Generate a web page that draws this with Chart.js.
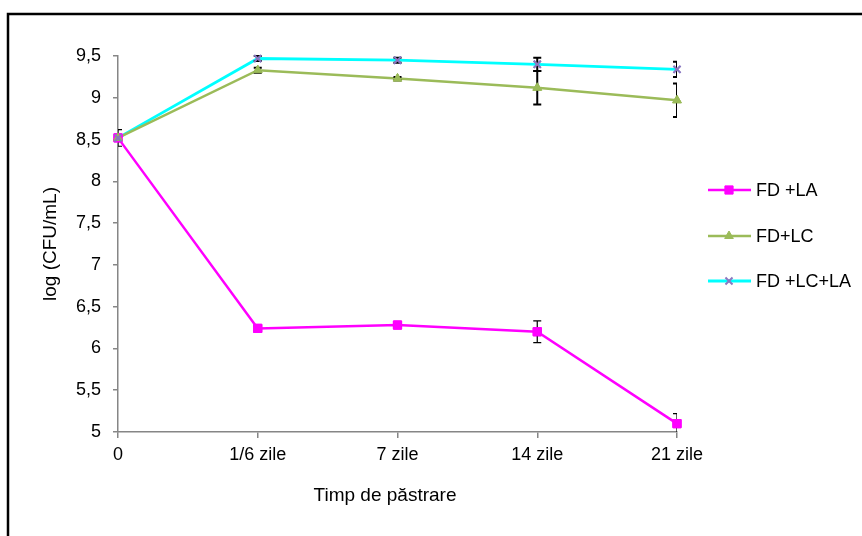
<!DOCTYPE html>
<html>
<head>
<meta charset="utf-8">
<script src="https://cdn.jsdelivr.net/npm/chart.js@4/dist/chart.umd.min.js"></script>
<style>
  html, body { margin: 0; padding: 0; background: #ffffff; }
  #wrap { width: 862px; height: 536px; }
</style>
</head>
<body>
<div id="wrap"><canvas id="c" width="862" height="536"></canvas></div>
<script>
// Storage time points
const categories = ['0', '1/6 zile', '7 zile', '14 zile', '21 zile'];

// log(CFU/mL) per formulation
const fdLA   = [8.52, 6.24, 6.28, 6.20, 5.10];
const fdLC   = [8.52, 9.33, 9.23, 9.12, 8.97];
const fdLCLA = [8.52, 9.47, 9.45, 9.40, 9.34];

// Standard deviations (error bars)
const errLA   = [0.10, 0.03, 0.02, 0.13, 0.12];
const errLC   = [0.03, 0.03, 0.02, 0.20, 0.20];
const errLCLA = [0.03, 0.03, 0.03, 0.08, 0.09];

// Y axis tick labels (comma decimals)
const yTickValues = [5, 5.5, 6, 6.5, 7, 7.5, 8, 8.5, 9, 9.5];
const yTickLabels = ['5', '5,5', '6', '6,5', '7', '7,5', '8', '8,5', '9', '9,5'];

const seriesNames = ['FD +LA', 'FD+LC', 'FD +LC+LA'];
const xTitle = 'Timp de păstrare';

const FONT = '"Liberation Sans", Arial, sans-serif';
const AXIS_GREY = '#868686';

// Frame around the figure (top and left edges)
const framePlugin = {
  id: 'frame',
  beforeDraw(chart) {
    const ctx = chart.ctx;
    ctx.save();
    ctx.fillStyle = '#ffffff';
    ctx.fillRect(0, 0, chart.width, chart.height);
    ctx.strokeStyle = '#000000';
    ctx.lineWidth = 2.5;
    ctx.beginPath();
    ctx.moveTo(chart.width, 14);
    ctx.lineTo(8, 14);
    ctx.lineTo(8, chart.height);
    ctx.stroke();
    ctx.restore();
  }
};

// Vertical error bars with caps, clipped to the plot area; markers redrawn on top
const errorBarPlugin = {
  id: 'errorBars',
  afterDatasetsDraw(chart) {
    const ctx = chart.ctx;
    const area = chart.chartArea;
    const xs = chart.scales.x;
    const ys = chart.scales.y;
    ctx.save();
    ctx.beginPath();
    ctx.rect(area.left, area.top - 3, area.right - area.left, area.bottom - area.top + 3);
    ctx.clip();
    chart.data.datasets.forEach((ds) => {
      const errs = ds.errors;
      if (!errs) return;
      ctx.strokeStyle = '#000000';
      ctx.lineWidth = ds.errorWidth;
      ds.data.forEach((v, i) => {
        const e = errs[i];
        const x = xs.getPixelForValue(i);
        const yTop = ys.getPixelForValue(v + e);
        const yBot = ys.getPixelForValue(v - e);
        const cap = 4;
        ctx.beginPath();
        ctx.moveTo(x, yTop);
        ctx.lineTo(x, yBot);
        ctx.moveTo(x - cap, yTop);
        ctx.lineTo(x + cap, yTop);
        ctx.moveTo(x - cap, yBot);
        ctx.lineTo(x + cap, yBot);
        ctx.stroke();
      });
    });
    ctx.restore();
    chart.data.datasets.forEach((ds, di) => {
      chart.getDatasetMeta(di).data.forEach((pt) => pt.draw(ctx, chart.chartArea));
    });
  }
};

// Legend on the right (line with marker, then label) and the x axis title
const sideLegendPlugin = {
  id: 'sideLegend',
  afterDraw(chart) {
    const ctx = chart.ctx;
    const rows = [190, 236, 281];
    const x0 = 708, x1 = 751, xm = 729, xt = 756;
    ctx.save();
    chart.data.datasets.forEach((ds, i) => {
      const y = rows[i];
      ctx.strokeStyle = ds.borderColor;
      ctx.lineWidth = ds.borderWidth;
      ctx.beginPath();
      ctx.moveTo(x0, y);
      ctx.lineTo(x1, y);
      ctx.stroke();
      ctx.fillStyle = ds.pointBackgroundColor;
      ctx.strokeStyle = ds.pointBorderColor;
      ctx.lineWidth = ds.pointBorderWidth;
      Chart.helpers.drawPoint(ctx, {
        pointStyle: ds.pointStyle,
        radius: ds.pointRadius,
        borderWidth: ds.pointBorderWidth
      }, xm, y);
      ctx.fillStyle = '#000000';
      ctx.font = '18px ' + FONT;
      ctx.textAlign = 'left';
      ctx.textBaseline = 'middle';
      ctx.fillText(seriesNames[i], xt, y + 1);
    });
    ctx.font = '19px ' + FONT;
    ctx.textAlign = 'center';
    ctx.textBaseline = 'middle';
    ctx.fillText(xTitle, 385, 496);
    ctx.restore();
  }
};

const chart = new Chart(document.getElementById('c'), {
  type: 'line',
  data: {
    labels: categories,
    datasets: [
      {
        label: seriesNames[0],
        data: fdLA,
        errors: errLA,
        errorWidth: 1.2,
        borderColor: '#ff00ff',
        borderWidth: 2.5,
        pointStyle: 'rect',
        pointRadius: 5.8,
        pointBackgroundColor: '#ff00ff',
        pointBorderColor: '#ff00ff',
        pointBorderWidth: 1,
        tension: 0
      },
      {
        label: seriesNames[1],
        data: fdLC,
        errors: errLC,
        errorWidth: 2,
        borderColor: '#9bbb59',
        borderWidth: 2.5,
        pointStyle: 'triangle',
        pointRadius: 5,
        pointBackgroundColor: '#9bbb59',
        pointBorderColor: '#9bbb59',
        pointBorderWidth: 1,
        tension: 0
      },
      {
        label: seriesNames[2],
        data: fdLCLA,
        errors: errLCLA,
        errorWidth: 2,
        borderColor: '#00ffff',
        borderWidth: 2.8,
        pointStyle: 'crossRot',
        pointRadius: 5,
        pointBackgroundColor: '#8a78c0',
        pointBorderColor: '#8a78c0',
        pointBorderWidth: 2,
        tension: 0
      }
    ]
  },
  options: {
    responsive: false,
    animation: false,
    events: [],
    layout: { padding: { left: 0, right: 185, top: 56, bottom: 0 } },
    plugins: {
      legend: { display: false },
      tooltip: { enabled: false }
    },
    scales: {
      x: {
        type: 'category',
        offset: false,
        border: { display: true, color: AXIS_GREY, width: 1.5 },
        grid: { display: true, drawOnChartArea: false, drawTicks: true, tickLength: 6, color: AXIS_GREY, lineWidth: 1.5 },
        ticks: { color: '#000000', font: { family: FONT, size: 18 }, padding: 6, maxRotation: 0, autoSkip: false },
        title: { display: false },
        afterFit(scale) { scale.height = 104; }
      },
      y: {
        type: 'linear',
        min: 5,
        max: 9.5,
        afterBuildTicks(scale) {
          scale.ticks = yTickValues.map((v) => ({ value: v }));
        },
        border: { display: true, color: AXIS_GREY, width: 1.5 },
        grid: { display: true, drawOnChartArea: false, drawTicks: true, tickLength: 5, color: AXIS_GREY, lineWidth: 1.5 },
        ticks: {
          color: '#000000',
          font: { family: FONT, size: 18 },
          padding: 12,
          callback(value) {
            const k = yTickValues.indexOf(value);
            return k >= 0 ? yTickLabels[k] : '';
          }
        },
        title: { display: true, text: 'log (CFU/mL)', color: '#000000', font: { family: FONT, size: 19 }, padding: { top: 39, bottom: 0 } },
        afterFit(scale) { scale.width = 118; }
      }
    }
  },
  plugins: [framePlugin, errorBarPlugin, sideLegendPlugin]
});
</script>
</body>
</html>
